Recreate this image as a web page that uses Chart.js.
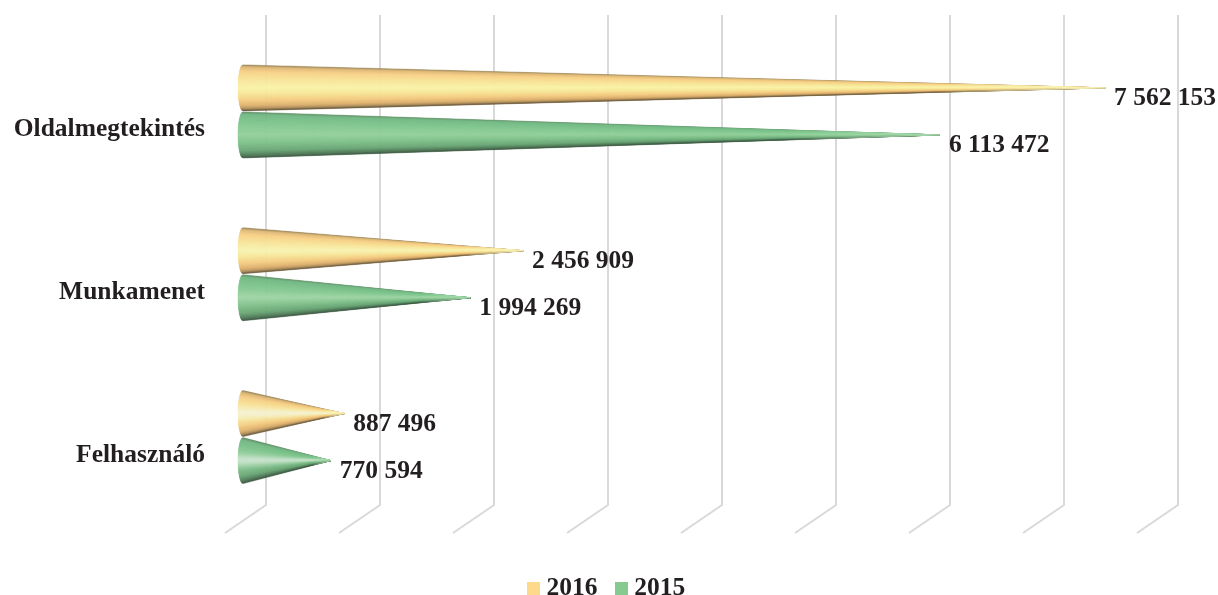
<!DOCTYPE html>
<html>
<head>
<meta charset="utf-8">
<style>html,body{margin:0;padding:0;background:#fff;overflow:hidden}#w{width:1218px;height:595px;overflow:hidden}</style>
<script src="https://cdn.jsdelivr.net/npm/chart.js@4"></script>
</head>
<body>
<div id="w"><canvas id="c" width="1218" height="595"></canvas></div>
<script>
const categories = ["Oldalmegtekintés", "Munkamenet", "Felhasználó"];
const seriesNames = ["2016", "2015"];
const values2016 = [7562153, 2456909, 887496];
const values2015 = [6113472, 1994269, 770594];
const xTicks = [0, 1000000, 2000000, 3000000, 4000000, 5000000, 6000000, 7000000, 8000000];
const xMax = 8552632;

const FONT_SIZE = 25.5;
const FONT = 'bold ' + FONT_SIZE + 'px "Liberation Serif"';
const TEXT = '#231f20';
const SHADES = {
  "2016": [[-1,'#8d7a50'],[-0.9,'#dcb674'],[-0.7,'#f7cf86'],[-0.35,'#f7e498'],[0,'#f8f2a8'],[0.25,'#f6e798'],[0.55,'#f4cc82'],[0.8,'#dcae6c'],[0.93,'#a98a58'],[1,'#5e5036']],
  "2015": [[-1,'#5e8a62'],[-0.88,'#72b884'],[-0.5,'#80c58e'],[0,'#93d09b'],[0.35,'#7fc08a'],[0.7,'#6aa676'],[0.9,'#4f7a57'],[1,'#3a5540']]
};
const TIP_FADE = {"2016":['rgba(248,242,168,0)','rgba(250,246,190,1)'],"2015":['rgba(160,215,165,0)','rgba(170,220,175,1)']};
const LEGEND_COLORS = {"2016":'#fed98b',"2015":'#86ca90'};
const hex = h => [1,3,5].map(i => parseInt(h.substr(i,2),16));
function shade(stops, t, glow){
  let rgb = hex(stops[stops.length-1][1]);
  for(let i=1;i<stops.length;i++){
    if(t<=stops[i][0]){
      const a=stops[i-1], b=stops[i], k=(t-a[0])/(b[0]-a[0]);
      const ca=hex(a[1]), cb=hex(b[1]);
      rgb = ca.map((v,j)=>v+(cb[j]-v)*k);
      break;
    }
  }
  const g = glow*Math.exp(-Math.pow(t/0.28,2));
  return 'rgb('+rgb.map(v=>Math.round(v+(240-v)*g)).join(',')+')';
}
const fmt = v => String(v).replace(/\B(?=(\d{3})+(?!\d))/g,' ');
function legendSwatch(color){
  const s=document.createElement('canvas'); s.width=13; s.height=13;
  const g=s.getContext('2d'); g.fillStyle=color; g.fillRect(0,0,13,13);
  return s;
}

const depthGrid = {
  id:'depthGrid',
  beforeDatasetsDraw(chart){
    const {ctx, scales:{x}} = chart;
    ctx.save();
    ctx.strokeStyle='#d9d9d9'; ctx.lineWidth=2;
    x.ticks.forEach(t=>{
      const p=x.getPixelForValue(t.value);
      ctx.beginPath();
      ctx.moveTo(p+23,15); ctx.lineTo(p+23,505); ctx.lineTo(p-18,533);
      ctx.stroke();
    });
    ctx.restore();
  }
};
const cones = {
  id:'cones',
  afterDatasetsDraw(chart){
    const {ctx} = chart;
    chart.data.datasets.forEach((ds,di)=>{
      const stops=SHADES[ds.label], fade=TIP_FADE[ds.label];
      chart.getDatasetMeta(di).data.forEach((el,i)=>{
        const tip=el.x, cy=el.y, r=23, base=el.base, N=60;
        const len=tip-base, glow=len<150?0.55:(len<350?0.12:0);
        ctx.save();
        for(let k=0;k<N;k++){
          const t0=-1+2*k/N, t1=-1+2*(k+1)/N, m=(t0+t1)/2;
          const x0=base-5*Math.sqrt(Math.max(0,1-t0*t0)), x1=base-5*Math.sqrt(Math.max(0,1-t1*t1));
          const c=shade(stops,m,glow);
          ctx.fillStyle=c; ctx.strokeStyle=c; ctx.lineWidth=0.5;
          ctx.beginPath();
          ctx.moveTo(tip,cy); ctx.lineTo(x0,cy+r*t0); ctx.lineTo(x1,cy+r*t1); ctx.closePath();
          ctx.fill(); ctx.stroke();
        }
        const start=tip-Math.min(len*0.22,170);
        const gr=ctx.createLinearGradient(start,0,tip+1,0);
        gr.addColorStop(0,fade[0]); gr.addColorStop(1,fade[1]);
        ctx.fillStyle=gr; ctx.strokeStyle=gr; ctx.lineWidth=1;
        ctx.beginPath();
        ctx.moveTo(tip,cy);
        const rs=r*(tip-start)/len;
        ctx.lineTo(start,cy-rs); ctx.lineTo(start,cy+rs); ctx.closePath();
        ctx.fill(); ctx.stroke();
        ctx.restore();
        ctx.save();
        ctx.font=FONT; ctx.fillStyle=TEXT; ctx.textAlign='left'; ctx.textBaseline='middle';
        ctx.fillText(fmt(ds.data[i]), tip+9, cy+10.5);
        ctx.restore();
      });
    });
  }
};

new Chart(document.getElementById('c'),{
  type:'bar',
  data:{
    labels:categories,
    datasets:[
      {label:seriesNames[0], data:values2016, backgroundColor:'transparent', borderWidth:0},
      {label:seriesNames[1], data:values2015, backgroundColor:'transparent', borderWidth:0}
    ]
  },
  plugins:[depthGrid,cones],
  options:{
    indexAxis:'y',
    responsive:false,
    animation:false,
    layout:{padding:{top:30,right:0,bottom:-16,left:0}},
    datasets:{bar:{categoryPercentage:0.578,barPercentage:1}},
    scales:{
      x:{
        min:0,max:xMax,
        afterBuildTicks(s){ s.ticks = xTicks.map(value=>({value})); },
        grid:{display:false},border:{display:false},
        ticks:{display:false},
        afterFit(s){ s.height=34; }
      },
      y:{
        grid:{display:false,drawTicks:true,tickLength:38},border:{display:false},
        afterFit(s){ s.width=243; },
        ticks:{color:TEXT,font:{family:'"Liberation Serif"',size:FONT_SIZE,weight:'bold'},padding:0,labelOffset:18,autoSkip:false}
      }
    },
    plugins:{
      tooltip:{enabled:false},
      title:{display:false},
      legend:{
        position:'bottom',
        labels:{
          usePointStyle:true,pointStyleWidth:1,padding:23,color:TEXT,
          font:{family:'"Liberation Serif"',size:FONT_SIZE,weight:'bold'},
          generateLabels(chart){
            return chart.data.datasets.map((d,i)=>({text:d.label,pointStyle:legendSwatch(LEGEND_COLORS[d.label]),fillStyle:LEGEND_COLORS[d.label],strokeStyle:LEGEND_COLORS[d.label],lineWidth:0,datasetIndex:i,fontColor:TEXT}));
          }
        }
      }
    }
  }
});
</script>
</body>
</html>
